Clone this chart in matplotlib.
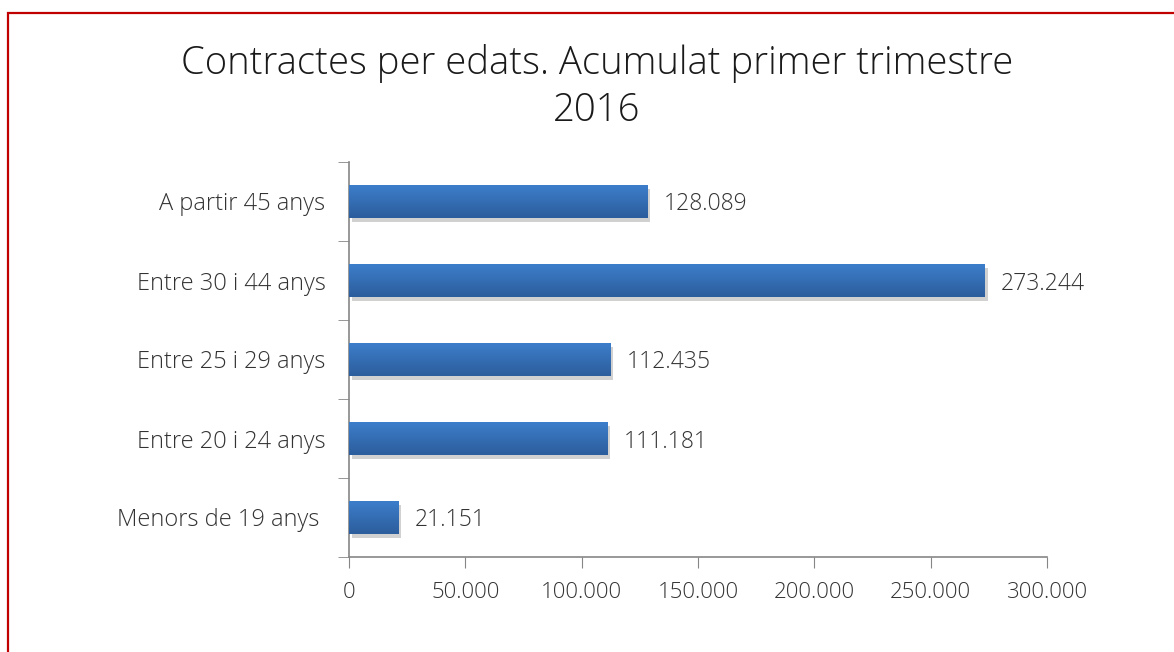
import matplotlib
matplotlib.use("Agg")
import matplotlib.pyplot as plt
import matplotlib.ticker as mticker
import matplotlib.patheffects as pe
from matplotlib.patches import Rectangle
import numpy as np

# dades
categories = ["Menors de 19 anys ", "Entre 20 i 24 anys", "Entre 25 i 29 anys",
              "Entre 30 i 44 anys", "A partir 45 anys"]
valors = [21151, 111181, 112435, 273244, 128089]
titol = "Contractes per edats. Acumulat primer trimestre\n2016"

plt.rcParams['font.family'] = ['Open Sans', 'DejaVu Sans']
plt.rcParams['font.weight'] = 'light'
text_color = "#333333"

def fmt_miles(v, pos=None):
    return f"{int(v):,}".replace(",", ".")

fig = plt.figure(figsize=(11.74, 6.52), dpi=100)
ax = fig.add_axes([349/1174, 1 - 557/652, 698/1174, 395/652])

y = np.arange(len(categories))
bars = ax.barh(y, valors, height=0.42, color="#3877c4", zorder=2,
               path_effects=[pe.SimplePatchShadow(offset=(2, -3), alpha=0.18, shadow_rgbFace="#000000"),
                             pe.Normal()])

# degradat vertical de cada barra
grad = np.linspace(0, 1, 64).reshape(-1, 1)
cmap = matplotlib.colors.LinearSegmentedColormap.from_list("blau", ["#2c5d9c", "#3d7fcc"])
for b in bars:
    x0, y0, w, h = b.get_x(), b.get_y(), b.get_width(), b.get_height()
    im = ax.imshow(grad, cmap=cmap, aspect="auto", extent=(x0, x0 + w, y0 + h, y0),
                   origin="upper", zorder=3)
    im.set_clip_path(b)

for b, v in zip(bars, valors):
    ax.text(b.get_width() + 7000, b.get_y() + b.get_height() / 2, fmt_miles(v),
            va="center_baseline", ha="left", fontsize=16.5, color=text_color, zorder=4)

ax.set_xlim(0, 300000)
ax.set_ylim(-0.5, len(categories) - 0.5)
ax.xaxis.set_major_locator(mticker.MultipleLocator(50000))
ax.xaxis.set_major_formatter(mticker.FuncFormatter(fmt_miles))
ax.set_yticks(y)
ax.set_yticklabels(categories)
ax.set_yticks(np.arange(-0.5, len(categories)), minor=True)
ax.tick_params(axis="y", which="major", length=0, pad=17, labelsize=17, labelcolor=text_color)
ax.tick_params(axis="y", which="minor", length=8, direction="out", color="#868686")
ax.tick_params(axis="x", length=8, direction="out", color="#868686", pad=10,
               labelsize=16, labelcolor=text_color)

for s in ["top", "right"]:
    ax.spines[s].set_visible(False)
for s in ["left", "bottom"]:
    ax.spines[s].set_color("#868686")
    ax.spines[s].set_linewidth(1.2)

fig.text(597/1174, 1 - 87/652, titol, ha="center", va="center", fontsize=27.5,
         color="#1a1a1a", linespacing=1.3)

# marc vermell
fig.patches.append(Rectangle((8/1174, -0.1), 1.2, 1 - 13/652 + 0.1, transform=fig.transFigure,
                             fill=False, edgecolor="#c00000", linewidth=1.6))

fig.savefig("out.png", dpi=100)
